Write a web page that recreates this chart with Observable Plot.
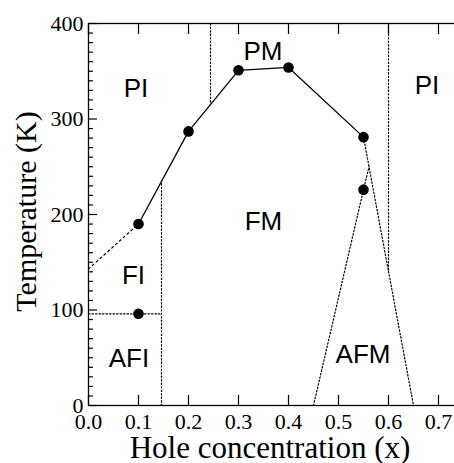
<!DOCTYPE html>
<html>
<head>
<meta charset="utf-8">
<script src="https://cdn.jsdelivr.net/npm/d3@7"></script>
<script src="https://cdn.jsdelivr.net/npm/@observablehq/plot@0.6"></script>
<style>
  html, body { margin: 0; padding: 0; background: white; overflow: hidden; }
  #chart svg { overflow: hidden; display: block; }
</style>
</head>
<body>
<div id="chart"></div>
<script>
// Transition temperature Tc (solid line with dots)
const tcX = [0.1, 0.2, 0.3, 0.4, 0.55];
const tcT = [190, 287, 351, 354, 281];
// Other measured transition points (dots only)
const tnX = [0.1, 0.55];
const tnT = [96, 226];
// Dotted phase boundaries
const boundaryNames = ["FI-PI", "AFI-FI", "I-M low", "PI-PM", "PM-PI right", "FM-AFM A", "FM-AFM B"];
const boundaryX = [[0, 0.1], [0, 0.146], [0.146, 0.146], [0.244, 0.244], [0.6, 0.6], [0.55, 0.65], [0.45, 0.55, 0.561]];
const boundaryT = [[143, 190], [96, 96], [0, 235], [400, 315], [400, 140], [281, 0], [0, 226, 250]];
// Phase labels
const phaseNames = ["PI", "PM", "PI", "FM", "FI", "AFI", "AFM"];
const phaseX = [0.095, 0.349, 0.677, 0.35, 0.09, 0.081, 0.549];
const phaseT = [332, 371, 335, 193, 136, 49, 53];
// Ticks
const xTicks = [0, 0.1, 0.2, 0.3, 0.4, 0.5, 0.6, 0.7];
const yMajor = [0, 100, 200, 300, 400];
const yMinor = d3.range(0, 401, 10).filter(v => v % 100 !== 0);

const tc = tcX.map((x, i) => ({x, T: tcT[i]}));
const tn = tnX.map((x, i) => ({x, T: tnT[i]}));
const bounds = boundaryNames.flatMap((name, j) => boundaryX[j].map((x, i) => ({name, x, T: boundaryT[j][i]})));
const phases = phaseNames.map((name, i) => ({name, x: phaseX[i], T: phaseT[i]}));

const serif = "'Liberation Serif', 'Times New Roman', serif";
const sans = "'Liberation Sans', Arial, sans-serif";

const chart = Plot.plot({
  width: 454,
  height: 463,
  marginLeft: 88,
  marginRight: -9,
  marginTop: 23,
  marginBottom: 58,
  x: {domain: [0, 0.75]},
  y: {domain: [0, 400]},
  style: {background: "white", color: "black"},
  marks: [
    // dotted boundaries
    Plot.line(bounds.filter(d => d.name === "FI-PI"), {x: "x", y: "T", stroke: "black", strokeWidth: 1.2, strokeDasharray: "2,3.2"}),
    Plot.line(bounds.filter(d => d.name !== "FI-PI"), {x: "x", y: "T", z: "name", stroke: "black", strokeWidth: 1.2, strokeDasharray: "1.5,2"}),
    // solid Tc line
    Plot.line(tc, {x: "x", y: "T", stroke: "black", strokeWidth: 1.3}),
    Plot.dot(tc, {x: "x", y: "T", r: 5.3, fill: "black", stroke: "none"}),
    Plot.dot(tn, {x: "x", y: "T", r: 5.3, fill: "black", stroke: "none"}),
    // phase labels
    Plot.text(phases, {x: "x", y: "T", text: "name", fontFamily: sans, fontSize: 26, fill: "black"}),
    // frame
    Plot.frame({stroke: "black", strokeWidth: 1.3}),
    // inward ticks
    Plot.axisX({anchor: "bottom", ticks: xTicks, tickSize: -10, fill: "none", label: null, strokeWidth: 1.2}),
    Plot.axisX({anchor: "top", ticks: xTicks, tickSize: -10, fill: "none", label: null, strokeWidth: 1.2}),
    Plot.axisY({anchor: "left", ticks: yMajor, tickSize: -9, fill: "none", label: null, strokeWidth: 1.2}),
    Plot.axisY({anchor: "left", ticks: yMinor, tickSize: -5, fill: "none", label: null, strokeWidth: 1.2}),
    Plot.axisY({anchor: "right", ticks: yMajor, tickSize: -10, fill: "none", label: null, strokeWidth: 1.2}),
    // tick labels
    Plot.axisX({anchor: "bottom", ticks: xTicks, tickSize: 0, tickPadding: 8, tickFormat: d3.format(".1f"), label: null, fontFamily: serif, fontSize: 22}),
    Plot.axisY({anchor: "left", ticks: yMajor, tickSize: 0, tickPadding: 5, tickFormat: d3.format("d"), label: null, fontFamily: serif, fontSize: 22}),
    // axis titles
    Plot.text(["Hole concentration (x)"], {frameAnchor: "bottom", text: d => d, textAnchor: "middle", dx: -6, dy: 52, lineAnchor: "bottom", fontFamily: serif, fontSize: 31, fill: "black"}),
    Plot.text(["Temperature (K)"], {frameAnchor: "left", text: d => d, textAnchor: "middle", rotate: -90, dx: -53, dy: -3, lineAnchor: "bottom", fontFamily: serif, fontSize: 30, fill: "black"})
  ]
});
document.getElementById("chart").appendChild(chart);
</script>
</body>
</html>
